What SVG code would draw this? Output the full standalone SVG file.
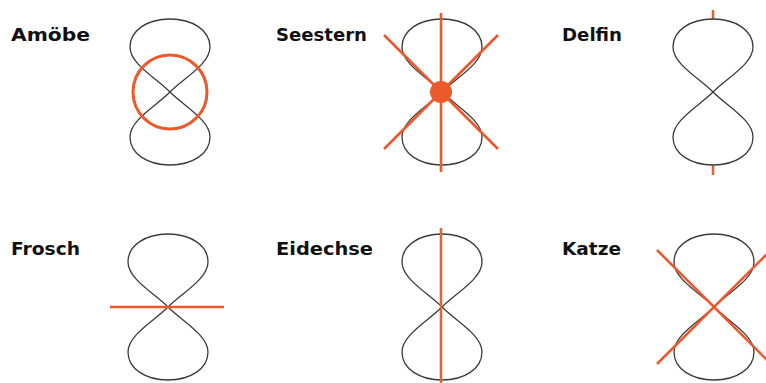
<svg xmlns="http://www.w3.org/2000/svg" xmlns:xlink="http://www.w3.org/1999/xlink" width="766" height="383" viewBox="0 0 766 383">
<style>
.lbl{font-family:"DejaVu Sans","Liberation Sans",sans-serif;font-weight:bold;font-size:18px;fill:#111}
.eight{fill:none;stroke:#3a3a3a;stroke-width:1.3}
.ax{stroke:#ec5a2b;stroke-width:2.6;fill:none;stroke-linecap:butt}
.ax2{stroke:#d9693a;stroke-width:2.6;fill:none}
</style>
<defs>
<path id="eight" d="M0 0 C14 -14 40 -28 40 -45 C40 -62 22 -73 0 -73 C-22 -73 -40 -62 -40 -45 C-40 -28 -14 -14 0 0 C14 14 40 28 40 45 C40 62 22 73 0 73 C-22 73 -40 62 -40 45 C-40 28 -14 14 0 0Z"/>
</defs>
<rect width="766" height="383" fill="#fff"/>
<g id="amoebe">
<text class="lbl" x="11" y="41" textLength="79" lengthAdjust="spacingAndGlyphs">Amöbe</text>
<use xlink:href="#eight" class="eight" x="170" y="92"/>
<circle cx="170" cy="92" r="37" fill="none" stroke="#ec5a2b" stroke-width="3"/>
</g>
<g id="seestern">
<text class="lbl" x="276" y="41" textLength="91" lengthAdjust="spacingAndGlyphs">Seestern</text>
<use xlink:href="#eight" class="eight" x="442" y="92"/>
<line class="ax" x1="441" y1="13" x2="441" y2="172"/>
<line class="ax" x1="384" y1="35" x2="498" y2="149"/>
<line class="ax" x1="498" y1="35" x2="384" y2="149"/>
<circle cx="441" cy="92" r="11" fill="#ec5a2b"/>
</g>
<g id="delfin">
<text class="lbl" x="562" y="41" textLength="60" lengthAdjust="spacingAndGlyphs">Delfin</text>
<line class="ax2" x1="713" y1="10" x2="713" y2="19"/>
<line class="ax2" x1="713" y1="165" x2="713" y2="175"/>
<use xlink:href="#eight" class="eight" x="713" y="92"/>
</g>
<g id="frosch">
<text class="lbl" x="11" y="255" textLength="69" lengthAdjust="spacingAndGlyphs">Frosch</text>
<use xlink:href="#eight" class="eight" x="168" y="307"/>
<line class="ax" x1="110" y1="307" x2="224" y2="307"/>
</g>
<g id="eidechse">
<text class="lbl" x="276" y="255" textLength="97" lengthAdjust="spacingAndGlyphs">Eidechse</text>
<use xlink:href="#eight" class="eight" x="442" y="307"/>
<line class="ax2" x1="441" y1="228" x2="441" y2="383"/>
</g>
<g id="katze">
<text class="lbl" x="562" y="255" textLength="59" lengthAdjust="spacingAndGlyphs">Katze</text>
<use xlink:href="#eight" class="eight" x="714" y="307"/>
<line class="ax" x1="657" y1="250" x2="772" y2="365"/>
<line class="ax" x1="657" y1="364" x2="772" y2="249"/>
</g>
</svg>
